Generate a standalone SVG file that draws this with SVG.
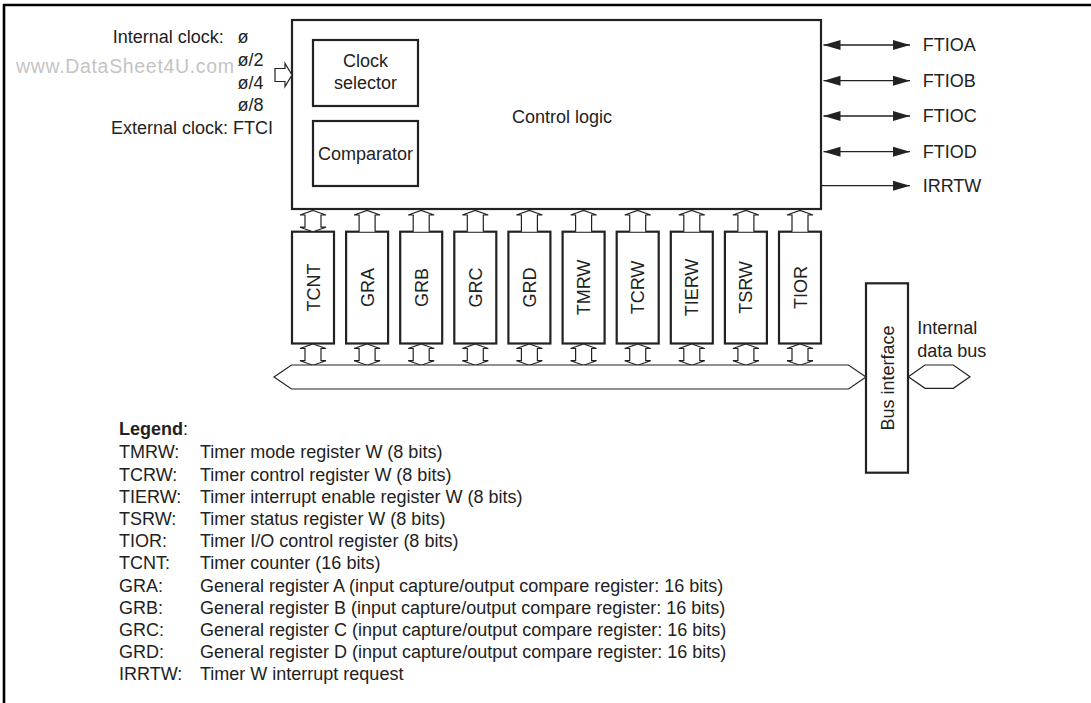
<svg xmlns="http://www.w3.org/2000/svg" xmlns:xlink="http://www.w3.org/1999/xlink" width="1091" height="703" viewBox="0 0 1091 703">
<style>
text{font-family:"Liberation Sans",Arial,Helvetica,sans-serif;font-size:18px;fill:#222}
.box{fill:#fff;stroke:#222;stroke-width:2.2}
.thin{fill:#fff;stroke:#222;stroke-width:1.2;stroke-linejoin:miter}
.wire{fill:none;stroke:#222;stroke-width:1.3}
.mid{text-anchor:middle}
.wm{fill:#c4c4c4;font-size:19.5px}
.frame{fill:none;stroke:#000;stroke-width:2.6}
</style>
<defs>
<marker id="ah" markerUnits="userSpaceOnUse" markerWidth="18" markerHeight="12" refX="17" refY="6" orient="auto-start-reverse">
<path d="M0,1 L17,6 L0,11 z" fill="#222"/>
</marker>
<path id="up" class="thin" d="M-8,21.2 V4.5 H-13 L0,0 L13,4.5 H8 V21.2"/>
<path id="dbl" class="thin" d="M0,0 L13,4.5 H8 V16.7 H13 L0,21.2 L-13,16.7 H-8 V4.5 H-13 Z"/>
</defs>

<g id="frame">
<line class="frame" x1="3" y1="5" x2="1091" y2="5"/>
<line class="frame" x1="4" y1="4" x2="4" y2="703"/>
</g>

<text class="wm" x="16" y="73" textLength="218" lengthAdjust="spacing">www.DataSheet4U.com</text>

<g id="clock-inputs">
<text x="112.7" y="43.3">Internal clock:</text>
<text x="237.5" y="43.3">ø</text>
<text x="237.5" y="66">ø/2</text>
<text x="237.5" y="88.5">ø/4</text>
<text x="237.5" y="111">ø/8</text>
<text x="111" y="133.5">External clock: FTCI</text>
</g>

<g id="control-logic">
<rect class="box" x="292" y="20" width="529" height="189"/>
<text class="mid" x="562" y="123">Control logic</text>
</g>
<g id="clock-selector">
<rect class="box" x="313" y="40" width="105" height="66"/>
<text class="mid" x="365.5" y="67">Clock</text>
<text class="mid" x="365.5" y="89">selector</text>
</g>
<g id="comparator">
<rect class="box" x="313" y="121" width="105" height="65"/>
<text class="mid" x="365.5" y="160">Comparator</text>
</g>

<g id="registers">
<g id="reg-TCNT"><rect class="box" x="292" y="231.7" width="42" height="111.8"/><text class="mid" transform="translate(319.5,287.5) rotate(-90)">TCNT</text></g>
<g id="reg-GRA"><rect class="box" x="346.1" y="231.7" width="42" height="111.8"/><text class="mid" transform="translate(373.6,287.5) rotate(-90)">GRA</text></g>
<g id="reg-GRB"><rect class="box" x="400.2" y="231.7" width="42" height="111.8"/><text class="mid" transform="translate(427.7,287.5) rotate(-90)">GRB</text></g>
<g id="reg-GRC"><rect class="box" x="454.3" y="231.7" width="42" height="111.8"/><text class="mid" transform="translate(481.8,287.5) rotate(-90)">GRC</text></g>
<g id="reg-GRD"><rect class="box" x="508.4" y="231.7" width="42" height="111.8"/><text class="mid" transform="translate(535.9,287.5) rotate(-90)">GRD</text></g>
<g id="reg-TMRW"><rect class="box" x="562.6" y="231.7" width="42" height="111.8"/><text class="mid" transform="translate(590.1,287.5) rotate(-90)">TMRW</text></g>
<g id="reg-TCRW"><rect class="box" x="616.7" y="231.7" width="42" height="111.8"/><text class="mid" transform="translate(644.2,287.5) rotate(-90)">TCRW</text></g>
<g id="reg-TIERW"><rect class="box" x="670.8" y="231.7" width="42" height="111.8"/><text class="mid" transform="translate(698.3,287.5) rotate(-90)">TIERW</text></g>
<g id="reg-TSRW"><rect class="box" x="724.9" y="231.7" width="42" height="111.8"/><text class="mid" transform="translate(752.4,287.5) rotate(-90)">TSRW</text></g>
<g id="reg-TIOR"><rect class="box" x="779" y="231.7" width="42" height="111.8"/><text class="mid" transform="translate(806.5,287.5) rotate(-90)">TIOR</text></g>
</g>

<g id="bus-interface">
<rect class="box" x="866" y="283.3" width="42" height="189.4"/>
<text class="mid" transform="translate(893.5,378) rotate(-90)">Bus interface</text>
</g>

<g id="internal-data-bus-label">
<text x="917.3" y="334">Internal</text>
<text x="917.3" y="357">data bus</text>
</g>

<g id="connectors">
<use xlink:href="#dbl" href="#dbl" x="313" y="210.5"/>
<use xlink:href="#up" href="#up" x="367.1" y="210.5"/>
<use xlink:href="#up" href="#up" x="421.2" y="210.5"/>
<use xlink:href="#up" href="#up" x="475.3" y="210.5"/>
<use xlink:href="#up" href="#up" x="529.4" y="210.5"/>
<use xlink:href="#up" href="#up" x="583.6" y="210.5"/>
<use xlink:href="#up" href="#up" x="637.7" y="210.5"/>
<use xlink:href="#up" href="#up" x="691.8" y="210.5"/>
<use xlink:href="#up" href="#up" x="745.9" y="210.5"/>
<use xlink:href="#up" href="#up" x="800" y="210.5"/>

<use xlink:href="#dbl" href="#dbl" x="313" y="344"/>
<use xlink:href="#dbl" href="#dbl" x="367.1" y="344"/>
<use xlink:href="#dbl" href="#dbl" x="421.2" y="344"/>
<use xlink:href="#dbl" href="#dbl" x="475.3" y="344"/>
<use xlink:href="#dbl" href="#dbl" x="529.4" y="344"/>
<use xlink:href="#dbl" href="#dbl" x="583.6" y="344"/>
<use xlink:href="#dbl" href="#dbl" x="637.7" y="344"/>
<use xlink:href="#dbl" href="#dbl" x="691.8" y="344"/>
<use xlink:href="#dbl" href="#dbl" x="745.9" y="344"/>
<use xlink:href="#dbl" href="#dbl" x="800" y="344"/>

<polygon id="clock-in-arrow" class="thin" points="275,68.5 285,68.5 285,63.5 292,75 285,86.5 285,81.5 275,81.5"/>

<polygon id="internal-bus" class="thin" points="274,377 291.5,365 848.5,365 866,377 848.5,389 291.5,389"/>
<polygon id="data-bus" class="thin" points="908.3,376.7 925,365 953.3,365 970,376.7 953.3,388.3 925,388.3"/>

<line class="wire" x1="823.5" y1="45" x2="910" y2="45" marker-start="url(#ah)" marker-end="url(#ah)"/>
<line class="wire" x1="823.5" y1="80.7" x2="910" y2="80.7" marker-start="url(#ah)" marker-end="url(#ah)"/>
<line class="wire" x1="823.5" y1="116" x2="910" y2="116" marker-start="url(#ah)" marker-end="url(#ah)"/>
<line class="wire" x1="823.5" y1="151.7" x2="910" y2="151.7" marker-start="url(#ah)" marker-end="url(#ah)"/>
<line class="wire" x1="822" y1="185.7" x2="910" y2="185.7" marker-end="url(#ah)"/>
</g>

<g id="pin-labels">
<text x="922.7" y="51">FTIOA</text>
<text x="922.7" y="86.7">FTIOB</text>
<text x="922.7" y="122">FTIOC</text>
<text x="922.7" y="157.7">FTIOD</text>
<text x="922.7" y="191.7">IRRTW</text>
</g>

<g id="legend">
<text x="119" y="435"><tspan font-weight="bold">Legend</tspan>:</text>
<text x="119" y="458.3">TMRW:</text><text x="200" y="458.3">Timer mode register W (8 bits)</text>
<text x="119" y="480.5">TCRW:</text><text x="200" y="480.5">Timer control register W (8 bits)</text>
<text x="119" y="502.7">TIERW:</text><text x="200" y="502.7">Timer interrupt enable register W (8 bits)</text>
<text x="119" y="524.9">TSRW:</text><text x="200" y="524.9">Timer status register W (8 bits)</text>
<text x="119" y="547.1">TIOR:</text><text x="200" y="547.1">Timer I/O control register (8 bits)</text>
<text x="119" y="569.3">TCNT:</text><text x="200" y="569.3">Timer counter (16 bits)</text>
<text x="119" y="591.5">GRA:</text><text x="200" y="591.5">General register A (input capture/output compare register: 16 bits)</text>
<text x="119" y="613.7">GRB:</text><text x="200" y="613.7">General register B (input capture/output compare register: 16 bits)</text>
<text x="119" y="635.9">GRC:</text><text x="200" y="635.9">General register C (input capture/output compare register: 16 bits)</text>
<text x="119" y="658.1">GRD:</text><text x="200" y="658.1">General register D (input capture/output compare register: 16 bits)</text>
<text x="119" y="680.3">IRRTW:</text><text x="200" y="680.3">Timer W interrupt request</text>
</g>
</svg>
